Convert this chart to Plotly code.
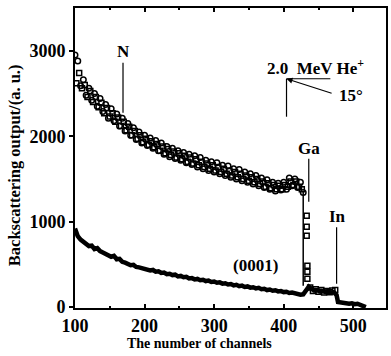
import plotly.graph_objects as go

# ---------------- data ----------------
# random spectrum (open circles)
rand_c_ch = list(range(100, 429, 4))
rand_c_val = [2950, 2880, 2590, 2660, 2480, 2560, 2420, 2500, 2350, 2440,
              2290, 2370, 2210, 2320, 2180, 2260, 2120, 2210, 2060, 2150,
              2010, 2100, 1960, 2050, 1920, 2010, 1890, 1980, 1860, 1950,
              1830, 1920, 1790, 1880, 1760, 1860, 1740, 1830, 1720, 1810,
              1690, 1790, 1670, 1770, 1640, 1750, 1620, 1720, 1600, 1700,
              1580, 1690, 1560, 1660, 1540, 1650, 1520, 1620, 1500, 1610,
              1480, 1580, 1460, 1560, 1440, 1540, 1420, 1510, 1400, 1490,
              1380, 1460, 1360, 1450, 1370, 1460, 1380, 1510, 1420, 1500,
              1400, 1460, 1340]

# random spectrum (open squares)
rand_s_ch = list(range(102, 427, 4)) + [433, 433, 433, 434, 434, 434,
                                        438, 442, 446, 450, 454, 458, 462, 466, 470, 474]
rand_s_val = [2620, 2740, 2560, 2600, 2460, 2530, 2400, 2460, 2340, 2390,
              2270, 2330, 2230, 2270, 2170, 2220, 2120, 2170, 2070, 2110,
              2010, 2060, 1970, 2010, 1930, 1970, 1900, 1940, 1870, 1910,
              1830, 1880, 1800, 1850, 1780, 1820, 1750, 1800, 1730, 1770,
              1700, 1750, 1680, 1730, 1660, 1700, 1640, 1680, 1620, 1660,
              1600, 1640, 1580, 1620, 1560, 1600, 1540, 1580, 1520, 1560,
              1500, 1540, 1480, 1520, 1460, 1500, 1440, 1470, 1410, 1450,
              1390, 1430, 1380, 1420, 1380, 1430, 1410, 1470, 1430, 1470,
              1410, 1380,
              1070, 940, 835, 485, 415, 333,
              230, 190, 210, 180, 200, 170, 190, 175, 195, 200]

# Ga edge of the random spectrum
edge_ch = [428, 428]
edge_val = [1350, 250]

# aligned (0001) spectrum
align_ch = list(range(100, 477, 4)) + [478, 482, 486, 490, 494, 498, 502, 506, 510, 514, 518]
align_val = [920, 830, 790, 760, 745, 715, 720, 680, 690, 655,
             640, 625, 615, 590, 600, 560, 565, 530, 520, 505,
             490, 495, 470, 465, 455, 450, 445, 430, 435, 415,
             420, 400, 405, 385, 390, 375, 380, 360, 365, 350,
             355, 335, 340, 325, 330, 315, 320, 305, 310, 295,
             300, 285, 290, 275, 280, 265, 270, 255, 262, 245,
             252, 236, 242, 228, 233, 220, 226, 210, 215, 200,
             206, 192, 198, 184, 188, 176, 180, 166, 170, 158,
             150, 145, 150, 200, 240, 215, 195, 200, 185, 190,
             178, 182, 170, 175, 140,
             60, 55, 45, 50, 40, 45, 35, 40, 30, 20, 0]

x_ticks = [100, 200, 300, 400, 500]
y_ticks = [0, 1000, 2000, 3000]

SERIF = "Liberation Serif"

fig = go.Figure()
fig.add_trace(go.Scatter(x=align_ch, y=align_val, mode="lines",
                         line=dict(color="black", width=4.5), showlegend=False))
fig.add_trace(go.Scatter(x=edge_ch, y=edge_val, mode="lines",
                         line=dict(color="black", width=1.5), showlegend=False))
fig.add_trace(go.Scatter(x=rand_s_ch, y=rand_s_val, mode="markers",
                         marker=dict(symbol="square-open", size=5, color="black",
                                     line=dict(width=1.5, color="black")),
                         showlegend=False))
fig.add_trace(go.Scatter(x=rand_c_ch, y=rand_c_val, mode="markers",
                         marker=dict(symbol="circle-open", size=5.5, color="black",
                                     line=dict(width=1.5, color="black")),
                         showlegend=False))

txt = dict(family=SERIF, size=17, color="black", weight="bold")

# labels
fig.add_annotation(x=170, y=2990, text="N", showarrow=False, font=txt)
fig.add_shape(type="line", x0=169, x1=169, y0=2860, y1=2275,
              line=dict(color="black", width=1.2))
fig.add_annotation(x=445, y=2813, text="2.0  MeV He<sup>+</sup>", showarrow=False, font=txt)
fig.add_shape(type="line", x0=404, x1=404, y0=2672, y1=2228,
              line=dict(color="black", width=1.2))
fig.add_shape(type="line", x0=404, x1=467, y0=2672, y1=2672,
              line=dict(color="black", width=1.2))
fig.add_annotation(x=404, y=2672, ax=471, ay=2497, axref="x", ayref="y",
                   xref="x", yref="y", text="", showarrow=True,
                   arrowhead=2, arrowsize=1, arrowwidth=1.2, arrowcolor="black")
fig.add_annotation(x=496, y=2474, text="15°", showarrow=False, font=txt)
fig.add_annotation(x=437, y=1854, text="Ga", showarrow=False, font=txt)
fig.add_shape(type="line", x0=436, x1=436, y0=1737, y1=1234,
              line=dict(color="black", width=1.2))
fig.add_annotation(x=477, y=1056, text="In", showarrow=False, font=txt)
fig.add_shape(type="line", x0=476, x1=476, y0=936, y1=275,
              line=dict(color="black", width=1.2))
fig.add_annotation(x=360, y=485, text="(0001)", showarrow=False, font=txt)

# axis titles
fig.add_annotation(xref="paper", yref="paper", x=0.40, y=-0.117,
                   text="The number of channels", showarrow=False,
                   font=dict(family=SERIF, size=14, color="black", weight="bold"),
                   xanchor="center", yanchor="middle")
fig.add_annotation(xref="paper", yref="paper", x=-0.192, y=0.477,
                   text="Backscattering output/(a. u.)", showarrow=False, textangle=-90,
                   font=dict(family=SERIF, size=16.5, color="black", weight="bold"),
                   xanchor="center", yanchor="middle")

fig.update_xaxes(range=[100, 547], tickvals=x_ticks, ticktext=[str(v) for v in x_ticks],
                 ticks="inside", ticklen=4, tickwidth=1.5, tickcolor="black",
                 showline=True, linecolor="black", linewidth=2, mirror="ticks",
                 showgrid=False, zeroline=False,
                 minor=dict(ticks="inside", ticklen=2, dtick=50, tickcolor="black"),
                 tickfont=dict(family=SERIF, size=18, color="black", weight="bold"))
fig.update_yaxes(range=[-10, 3500], tickvals=y_ticks, ticktext=[str(v) for v in y_ticks],
                 ticks="outside", ticklen=4, tickwidth=1.5, tickcolor="black",
                 showline=True, linecolor="black", linewidth=2, mirror=True,
                 showgrid=False, zeroline=False,
                 tickfont=dict(family=SERIF, size=18, color="black", weight="bold"))

fig.update_layout(width=391, height=356, margin=dict(l=75, r=3, t=8, b=48),
                  paper_bgcolor="white", plot_bgcolor="white")

fig.write_html("out.html")
